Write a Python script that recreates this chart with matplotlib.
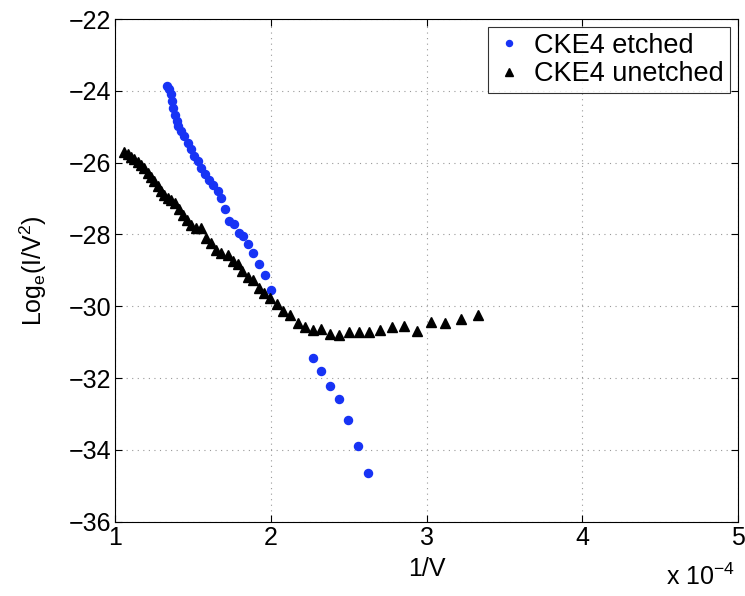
import numpy as np
import matplotlib
matplotlib.use("Agg")
import matplotlib.pyplot as plt

plt.rcParams['font.family'] = ['Liberation Sans', 'DejaVu Sans']
plt.rcParams['mathtext.fontset'] = 'custom'
plt.rcParams['mathtext.rm'] = 'Liberation Sans'
plt.rcParams['mathtext.it'] = 'Liberation Sans'

# 1/V in units of 1e-4
etched_x = [1.332, 1.347, 1.358, 1.364, 1.373, 1.386, 1.394, 1.403, 1.422, 1.444,
            1.465, 1.487, 1.508, 1.529, 1.551, 1.579, 1.605, 1.630, 1.658, 1.682,
            1.705, 1.733, 1.761, 1.793, 1.823, 1.855, 1.887, 1.922, 1.960, 1.999,
            2.269, 2.323, 2.378, 2.436, 2.496, 2.561, 2.627]
etched_y = [-23.87, -23.96, -24.10, -24.28, -24.47, -24.66, -24.84, -24.98, -25.12, -25.26,
            -25.45, -25.63, -25.82, -25.96, -26.14, -26.33, -26.47, -26.61, -26.79, -26.99,
            -27.28, -27.63, -27.70, -27.95, -28.04, -28.26, -28.52, -28.83, -29.14, -29.56,
            -31.45, -31.79, -32.22, -32.59, -33.18, -33.90, -34.64]

unetched_x = [1.058, 1.079, 1.101, 1.122, 1.143, 1.165, 1.186, 1.208, 1.229, 1.251,
              1.272, 1.294, 1.315, 1.336, 1.358, 1.386, 1.407, 1.433, 1.459, 1.487,
              1.519, 1.551, 1.583, 1.615, 1.647, 1.680, 1.722, 1.754, 1.786, 1.815,
              1.851, 1.887, 1.922, 1.958, 1.995, 2.040, 2.080, 2.125, 2.172, 2.222,
              2.269, 2.323, 2.381, 2.436, 2.500, 2.563, 2.629, 2.702, 2.777, 2.854,
              2.940, 3.030, 3.122, 3.223, 3.332]
unetched_y = [-25.70, -25.77, -25.84, -25.91, -25.97, -26.07, -26.16, -26.28, -26.40, -26.51,
              -26.65, -26.79, -26.91, -26.99, -27.05, -27.12, -27.30, -27.46, -27.61, -27.74,
              -27.81, -27.81, -28.09, -28.23, -28.42, -28.51, -28.56, -28.74, -28.83, -29.02,
              -29.19, -29.28, -29.50, -29.62, -29.78, -29.93, -30.13, -30.23, -30.46, -30.58,
              -30.67, -30.63, -30.78, -30.81, -30.71, -30.71, -30.71, -30.66, -30.58, -30.56,
              -30.69, -30.44, -30.46, -30.35, -30.25]

fig = plt.figure(figsize=(7.45, 5.96), dpi=100)
ax = fig.add_axes([0.1548, 0.1247, 0.8354, 0.8434])

ax.plot(etched_x, etched_y, linestyle='none', marker='o', markersize=5.8,
        color='#1733f5', label='CKE4 etched')
ax.plot(unetched_x, unetched_y, linestyle='none', marker='^', markersize=7,
        color='black', label='CKE4 unetched')

ax.set_xlim(1, 5)
ax.set_ylim(-36, -22)
ax.set_xticks([1, 2, 3, 4, 5])
ax.set_yticks(np.arange(-36, -21, 2))
ax.set_yticklabels(['\u2212%d' % abs(v) for v in range(-36, -21, 2)])
ax.grid(True, linestyle=(0, (1, 4)), color='#999999', linewidth=0.8)
ax.tick_params(direction='in', labelsize=18, top=True, right=True, length=5, pad=3)
for s in ax.spines.values():
    s.set_linewidth(0.8)

ax.set_xlabel('1/V', fontsize=18, labelpad=5)
ax.set_ylabel(r'Log$_\mathrm{e}$(I/V$^2$)', fontsize=18, labelpad=14)
fig.text(0.987, 0.01, r'x 10$^{-4}$', fontsize=18, ha='right', va='bottom')

leg = ax.legend(loc='upper right', fontsize=19.5, frameon=True, fancybox=False,
                edgecolor='black', handletextpad=0.4, borderaxespad=0.3,
                borderpad=0.2, labelspacing=0.1, handlelength=1.1, markerscale=0.75)
leg.get_frame().set_linewidth(0.8)

fig.savefig('out.png', dpi=100)
